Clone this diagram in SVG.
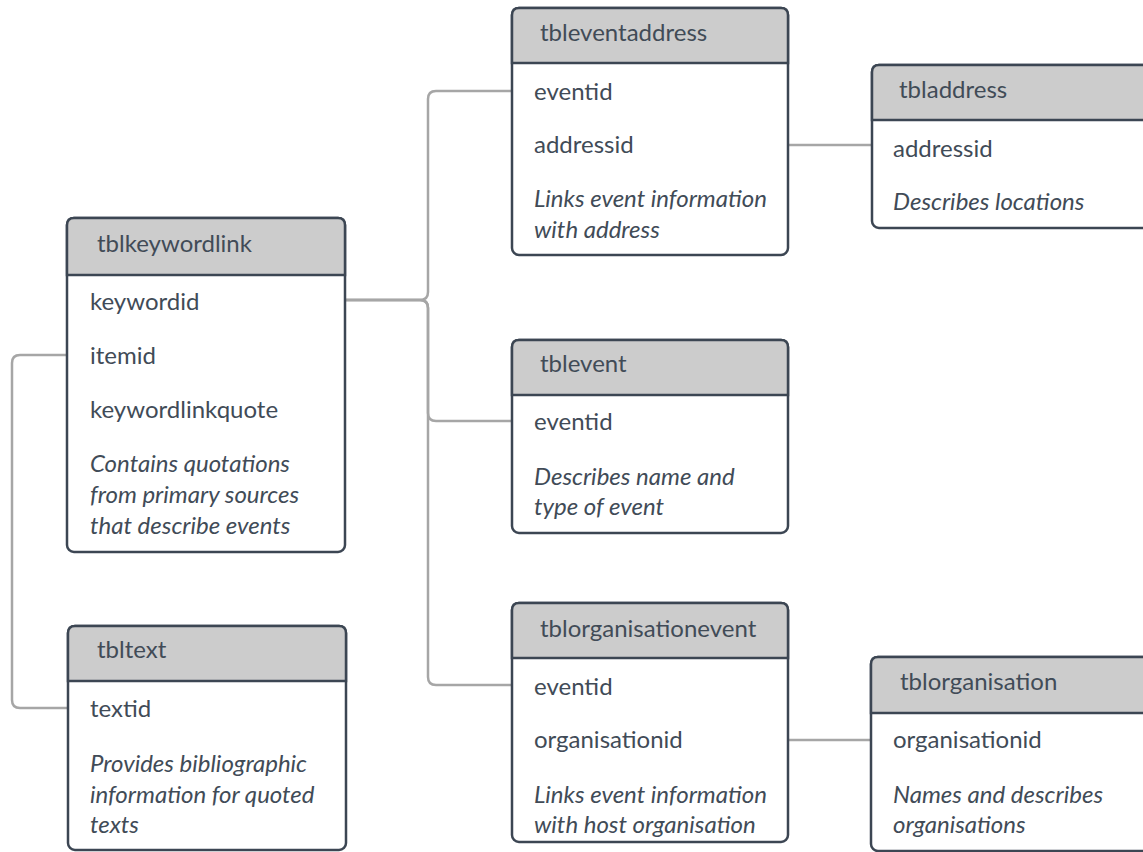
<svg xmlns="http://www.w3.org/2000/svg" width="1143" height="852" viewBox="0 0 1143 852">
<style>
.box{fill:#ffffff;stroke:#3c4653;stroke-width:2.5}
.hdr{fill:#cccccc;stroke:#3c4653;stroke-width:2.5}
.t{font-family:Lato,"Liberation Sans",sans-serif;font-size:24px;fill:#414b57}
.i{font-style:italic}
.c{fill:none;stroke:#a6a6a6;stroke-width:2.5}
</style>
<rect width="1143" height="852" fill="#ffffff"/>
<g id="connectors">
<path class="c" d="M345,300 H420 Q428,300 428,292 V99 Q428,91 436,91 H512"/>
<path class="c" d="M345,300 H420 Q428,300 428,308 V413 Q428,421 436,421 H512"/>
<path class="c" d="M345,300 H420 Q428,300 428,308 V677 Q428,685 436,685 H512"/>
<path class="c" d="M67,355 H20 Q12,355 12,363 V700 Q12,708 20,708 H68"/>
<path class="c" d="M788,145 H872"/>
<path class="c" d="M788,740 H871"/>
</g>
<g id="tbleventaddress">
<rect class="box" x="512" y="8" width="276" height="247" rx="7"/>
<path class="hdr" d="M512,63 V15 Q512,8 519,8 H781 Q788,8 788,15 V63 Z"/>
<text class="t" x="540" y="41">tbleventaddress</text>
<text class="t" x="534" y="100">eventid</text>
<text class="t" x="534" y="153">addressid</text>
<text class="t i" x="534" y="207">Links event information</text>
<text class="t i" x="534" y="238">with address</text>
</g>
<g id="tbladdress">
<rect class="box" x="872" y="65" width="290" height="163" rx="7"/>
<path class="hdr" d="M872,120 V72 Q872,65 879,65 H1162 V120 Z"/>
<text class="t" x="899" y="98">tbladdress</text>
<text class="t" x="893" y="157">addressid</text>
<text class="t i" x="893" y="210">Describes locations</text>
</g>
<g id="tblkeywordlink">
<rect class="box" x="67" y="218" width="278" height="334" rx="7"/>
<path class="hdr" d="M67,275 V225 Q67,218 74,218 H338 Q345,218 345,225 V275 Z"/>
<text class="t" x="97" y="252">tblkeywordlink</text>
<text class="t" x="90" y="310">keywordid</text>
<text class="t" x="90" y="364">itemid</text>
<text class="t" x="90" y="418">keywordlinkquote</text>
<text class="t i" x="90" y="472">Contains quotations</text>
<text class="t i" x="90" y="503">from primary sources</text>
<text class="t i" x="90" y="534">that describe events</text>
</g>
<g id="tbltext">
<rect class="box" x="68" y="626" width="278" height="224" rx="7"/>
<path class="hdr" d="M68,681 V633 Q68,626 75,626 H339 Q346,626 346,633 V681 Z"/>
<text class="t" x="97" y="658">tbltext</text>
<text class="t" x="90" y="717">textid</text>
<text class="t i" x="90" y="772">Provides bibliographic</text>
<text class="t i" x="90" y="803">information for quoted</text>
<text class="t i" x="90" y="833">texts</text>
</g>
<g id="tblevent">
<rect class="box" x="512" y="340" width="276" height="193" rx="7"/>
<path class="hdr" d="M512,395 V347 Q512,340 519,340 H781 Q788,340 788,347 V395 Z"/>
<text class="t" x="540" y="372">tblevent</text>
<text class="t" x="534" y="430">eventid</text>
<text class="t i" x="534" y="485">Describes name and</text>
<text class="t i" x="534" y="515">type of event</text>
</g>
<g id="tblorganisationevent">
<rect class="box" x="512" y="603" width="276" height="239" rx="7"/>
<path class="hdr" d="M512,658 V610 Q512,603 519,603 H781 Q788,603 788,610 V658 Z"/>
<text class="t" x="540" y="637">tblorganisationevent</text>
<text class="t" x="534" y="695">eventid</text>
<text class="t" x="534" y="748">organisationid</text>
<text class="t i" x="534" y="803">Links event information</text>
<text class="t i" x="534" y="833">with host organisation</text>
</g>
<g id="tblorganisation">
<rect class="box" x="871" y="657" width="290" height="194" rx="7"/>
<path class="hdr" d="M871,713 V664 Q871,657 878,657 H1161 V713 Z"/>
<text class="t" x="900" y="690">tblorganisation</text>
<text class="t" x="893" y="748">organisationid</text>
<text class="t i" x="893" y="803">Names and describes</text>
<text class="t i" x="893" y="833">organisations</text>
</g>
</svg>
